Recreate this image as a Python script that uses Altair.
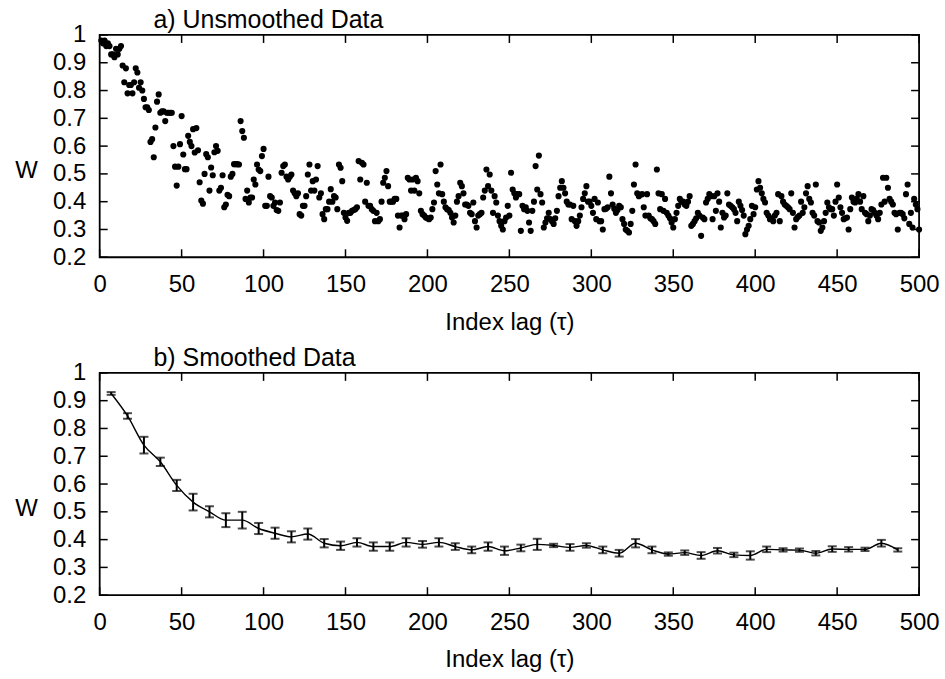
import altair as alt
import pandas as pd

# ---------------- data ----------------
lags = list(range(1, 501))
w_raw = [
    0.98, 0.97, 0.98, 0.96, 0.97, 0.96, 0.93, 0.93, 0.92, 0.95,
    0.93, 0.95, 0.96, 0.89, 0.83, 0.88, 0.79, 0.82, 0.82, 0.79,
    0.83, 0.88, 0.865, 0.81, 0.83, 0.80, 0.77, 0.74, 0.74, 0.73,
    0.615, 0.625, 0.56, 0.667, 0.76, 0.786, 0.72, 0.725, 0.725, 0.69,
    0.72, 0.72, 0.72, 0.72, 0.60, 0.526, 0.458, 0.526, 0.607, 0.708,
    0.57, 0.517, 0.517, 0.637, 0.615, 0.60, 0.661, 0.577, 0.665, 0.585,
    0.47, 0.404, 0.393, 0.50, 0.571, 0.56, 0.44, 0.523, 0.495, 0.578,
    0.60, 0.583, 0.44, 0.45, 0.495, 0.38, 0.39, 0.425, 0.42, 0.49,
    0.50, 0.535, 0.535, 0.535, 0.534, 0.69, 0.654, 0.63, 0.41, 0.44,
    0.397, 0.415, 0.415, 0.48, 0.462, 0.534, 0.516, 0.51, 0.564, 0.59,
    0.385, 0.385, 0.49, 0.42, 0.415, 0.385, 0.397, 0.37, 0.367, 0.397,
    0.504, 0.528, 0.534, 0.49, 0.48, 0.49, 0.498, 0.44, 0.43, 0.42,
    0.43, 0.355, 0.35, 0.385, 0.385, 0.42, 0.498, 0.534, 0.44, 0.474,
    0.44, 0.48, 0.528, 0.415, 0.43, 0.355, 0.337, 0.373, 0.373, 0.40,
    0.445, 0.40, 0.42, 0.415, 0.373, 0.534, 0.522, 0.474, 0.36, 0.343,
    0.331, 0.36, 0.36, 0.367, 0.37, 0.373, 0.38, 0.546, 0.48, 0.54,
    0.534, 0.40, 0.468, 0.385, 0.385, 0.373, 0.367, 0.33, 0.36, 0.33,
    0.337, 0.40, 0.468, 0.486, 0.51, 0.456, 0.40, 0.40, 0.40, 0.41,
    0.41, 0.35, 0.307, 0.35, 0.35, 0.337, 0.355, 0.486, 0.48, 0.44,
    0.48, 0.44, 0.486, 0.474, 0.43, 0.367, 0.355, 0.35, 0.343, 0.34,
    0.337, 0.343, 0.373, 0.397, 0.51, 0.462, 0.43, 0.534, 0.427, 0.40,
    0.38, 0.373, 0.37, 0.36, 0.343, 0.325, 0.35, 0.40, 0.42, 0.468,
    0.456, 0.43, 0.39, 0.39, 0.385, 0.36, 0.355, 0.397, 0.33, 0.307,
    0.35, 0.355, 0.36, 0.415, 0.44, 0.516, 0.456, 0.498, 0.44, 0.36,
    0.42, 0.397, 0.35, 0.33, 0.313, 0.30, 0.33, 0.343, 0.385, 0.35,
    0.504, 0.444, 0.43, 0.415, 0.427, 0.427, 0.295, 0.385, 0.373, 0.38,
    0.367, 0.325, 0.295, 0.367, 0.40, 0.528, 0.444, 0.566, 0.427, 0.397,
    0.307, 0.325, 0.34, 0.36, 0.337, 0.33, 0.32, 0.34, 0.367, 0.42,
    0.45, 0.474, 0.45, 0.43, 0.40, 0.39, 0.39, 0.337, 0.385, 0.33,
    0.313, 0.33, 0.35, 0.38, 0.41, 0.43, 0.456, 0.40, 0.40, 0.385,
    0.36, 0.41, 0.337, 0.397, 0.33, 0.33, 0.30, 0.373, 0.375, 0.38,
    0.49, 0.43, 0.39, 0.375, 0.36, 0.37, 0.385, 0.38, 0.337, 0.32,
    0.30, 0.295, 0.289, 0.32, 0.367, 0.462, 0.534, 0.43, 0.42, 0.425,
    0.427, 0.38, 0.35, 0.427, 0.35, 0.34, 0.337, 0.33, 0.32, 0.516,
    0.43, 0.373, 0.427, 0.367, 0.41, 0.36, 0.35, 0.34, 0.325, 0.307,
    0.337, 0.36, 0.385, 0.41, 0.40, 0.40, 0.39, 0.385, 0.40, 0.42,
    0.313, 0.32, 0.33, 0.34, 0.36, 0.35, 0.277, 0.343, 0.337, 0.397,
    0.41, 0.427, 0.42, 0.337, 0.42, 0.367, 0.43, 0.40, 0.307, 0.36,
    0.343, 0.35, 0.43, 0.39, 0.385, 0.38, 0.373, 0.36, 0.33, 0.40,
    0.385, 0.37, 0.35, 0.283, 0.30, 0.313, 0.337, 0.385, 0.355, 0.38,
    0.444, 0.474, 0.45, 0.43, 0.41, 0.397, 0.36, 0.35, 0.337, 0.34,
    0.33, 0.35, 0.36, 0.427, 0.33, 0.42, 0.40, 0.39, 0.385, 0.38,
    0.373, 0.43, 0.36, 0.307, 0.337, 0.345, 0.35, 0.40, 0.36, 0.38,
    0.43, 0.456, 0.41, 0.397, 0.36, 0.35, 0.462, 0.33, 0.325, 0.295,
    0.307, 0.33, 0.36, 0.397, 0.38, 0.373, 0.373, 0.35, 0.40, 0.462,
    0.415, 0.38, 0.36, 0.337, 0.34, 0.343, 0.30, 0.373, 0.415, 0.40,
    0.397, 0.41, 0.427, 0.40, 0.373, 0.42, 0.36, 0.355, 0.33, 0.35,
    0.373, 0.37, 0.36, 0.35, 0.337, 0.36, 0.39, 0.486, 0.40, 0.486,
    0.45, 0.41, 0.40, 0.39, 0.36, 0.355, 0.30, 0.36, 0.36, 0.355,
    0.34, 0.427, 0.462, 0.32, 0.36, 0.307, 0.41, 0.39, 0.373, 0.30,
]

smooth_lag = list(range(7, 488, 10))
smooth_w = [
    0.926, 0.845, 0.74, 0.68, 0.595, 0.535, 0.50, 0.47, 0.47, 0.44,
    0.423, 0.41, 0.42, 0.387, 0.378, 0.39, 0.375, 0.375, 0.39, 0.383,
    0.39, 0.375, 0.363, 0.375, 0.36, 0.37, 0.383, 0.379, 0.372, 0.379,
    0.363, 0.351, 0.387, 0.363, 0.348, 0.353, 0.343, 0.36, 0.345, 0.343,
    0.365, 0.363, 0.362, 0.351, 0.366, 0.365, 0.365, 0.387, 0.363,
]
smooth_err = [
    0.005, 0.01, 0.03, 0.015, 0.02, 0.03, 0.02, 0.025, 0.03, 0.02,
    0.02, 0.02, 0.02, 0.015, 0.015, 0.015, 0.015, 0.015, 0.015, 0.012,
    0.015, 0.012, 0.012, 0.015, 0.015, 0.012, 0.02, 0.006, 0.012, 0.008,
    0.012, 0.012, 0.015, 0.012, 0.006, 0.008, 0.012, 0.01, 0.008, 0.015,
    0.01, 0.006, 0.006, 0.008, 0.01, 0.008, 0.006, 0.012, 0.006,
]

x_ticks = [0, 50, 100, 150, 200, 250, 300, 350, 400, 450, 500]
y_ticks = [0.2, 0.3, 0.4, 0.5, 0.6, 0.7, 0.8, 0.9, 1.0]

# ---------------- layout constants ----------------
W, H = 822, 223
FONT = "Liberation Sans"
FS = 24

df_raw = pd.DataFrame({"lag": lags, "w": w_raw})
df_s = pd.DataFrame({
    "lag": smooth_lag,
    "w": smooth_w,
    "lo": [a - b for a, b in zip(smooth_w, smooth_err)],
    "hi": [a + b for a, b in zip(smooth_w, smooth_err)],
})
df_xt = pd.DataFrame({"lag": x_ticks})
df_yt = pd.DataFrame({"w": y_ticks})

xscale = alt.Scale(domain=[0, 500], nice=False, zero=False)
yscale = alt.Scale(domain=[0.2, 1.0], nice=False, zero=False)

xaxis = alt.Axis(values=x_ticks, title="Index lag (τ)", ticks=False, domain=False,
                 grid=False, labelFont=FONT, labelFontSize=FS, titleFont=FONT,
                 titleFontSize=FS, titleFontWeight="normal", labelColor="black",
                 titleColor="black", labelPadding=15, titlePadding=14, labelFlush=False)
yaxis = alt.Axis(values=y_ticks, format=".1~f", title="W", ticks=False, domain=False,
                 grid=False, labelFont=FONT, labelFontSize=FS, titleFont=FONT,
                 titleFontSize=FS, titleFontWeight="normal", labelColor="black",
                 titleColor="black", labelPadding=14, titleAngle=0, titleAlign="center",
                 titleBaseline="middle", titleX=-74, titleY=136, labelFlush=False)

X = lambda f: alt.X(f, scale=xscale, axis=xaxis)
Y = lambda f: alt.Y(f, scale=yscale, axis=yaxis)


def tick_layers():
    tl = 8
    bottom = alt.Chart(df_xt).mark_rule(color="black", strokeWidth=1.5).encode(
        x=X("lag:Q"), y=alt.value(H), y2=alt.value(H - tl))
    top = alt.Chart(df_xt).mark_rule(color="black", strokeWidth=1.5).encode(
        x=X("lag:Q"), y=alt.value(0), y2=alt.value(tl))
    left = alt.Chart(df_yt).mark_rule(color="black", strokeWidth=1.5).encode(
        y=Y("w:Q"), x=alt.value(0), x2=alt.value(tl))
    right = alt.Chart(df_yt).mark_rule(color="black", strokeWidth=1.5).encode(
        y=Y("w:Q"), x=alt.value(W), x2=alt.value(W - tl))
    return [bottom, top, left, right]


def title(text):
    return alt.TitleParams(text, anchor="start", frame="group", dx=54, offset=-10,
                           font=FONT, fontSize=25, fontWeight="normal", color="black")


# ---------------- panel a ----------------
scatter = alt.Chart(df_raw).mark_circle(size=38, color="black", opacity=1).encode(
    x=X("lag:Q"), y=Y("w:Q"))
panel_a = alt.layer(scatter, *tick_layers()).properties(
    width=W, height=H, title=title("a) Unsmoothed Data"))

# ---------------- panel b ----------------
line = alt.Chart(df_s).mark_line(color="black", strokeWidth=1.4, interpolate="monotone").encode(
    x=X("lag:Q"), y=Y("w:Q"))
bars = alt.Chart(df_s).mark_rule(color="black", strokeWidth=2).encode(
    x=X("lag:Q"), y=Y("lo:Q"), y2="hi:Q")
cap_lo = alt.Chart(df_s).mark_tick(color="black", orient="horizontal", size=9, thickness=2).encode(
    x=X("lag:Q"), y=Y("lo:Q"))
cap_hi = alt.Chart(df_s).mark_tick(color="black", orient="horizontal", size=9, thickness=2).encode(
    x=X("lag:Q"), y=Y("hi:Q"))
panel_b = alt.layer(line, bars, cap_lo, cap_hi, *tick_layers()).properties(
    width=W, height=H, title=title("b) Smoothed Data"))

chart = alt.vconcat(panel_a, panel_b, spacing=10).properties(
    padding={"left": 13, "top": 6, "right": 5, "bottom": 5},
    background="white",
).configure_view(stroke="black", strokeWidth=1.8)

chart.save("out.html", embed_options={"renderer": "svg", "actions": False})
